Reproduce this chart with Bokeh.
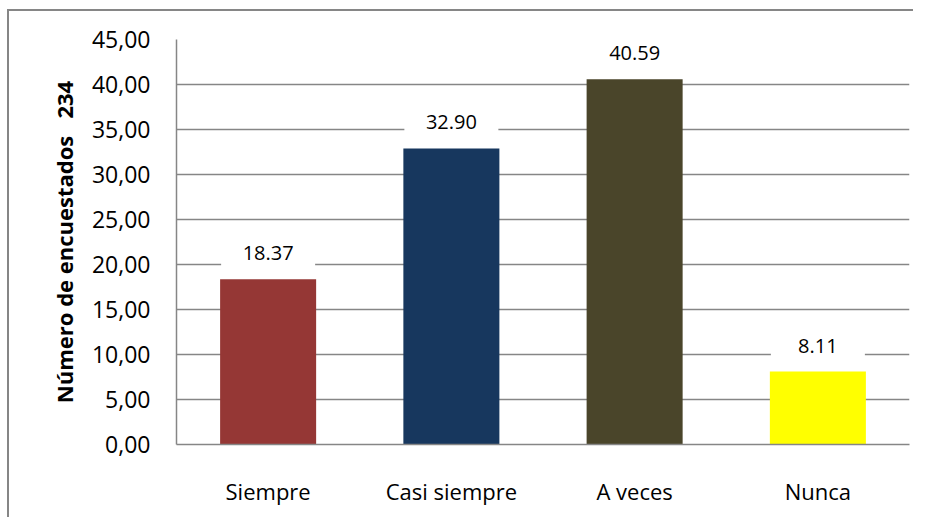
from bokeh.plotting import figure
from bokeh.models import ColumnDataSource, FixedTicker
from bokeh.core.properties import value
from bokeh.embed import file_html
from bokeh.resources import INLINE

categories = ["Siempre", "Casi siempre", "A veces", "Nunca"]
values = [18.37, 32.90, 40.59, 8.11]
value_labels = ["18.37", "32.90", "40.59", "8.11"]
bar_colors = ["#953735", "#17375E", "#4A452A", "#FFFF00"]
tick_values = [0, 5, 10, 15, 20, 25, 30, 35, 40, 45]
tick_labels = ["0,00", "5,00", "10,00", "15,00", "20,00", "25,00", "30,00", "35,00", "40,00", "45,00"]
y_title = "Número de encuestados\u00a0\u00a0\u00a0234"

FONT = "Open Sans"
GRID = "#868686"

W, H = 906, 508
y_top = 45
frame_top, frame_bottom = 30, 73
px_per_unit = (H - frame_top - frame_bottom) / y_top
label_gap_px = 26

src = ColumnDataSource(dict(
    cat=categories,
    val=values,
    lab=value_labels,
    color=bar_colors,
    laby=[v + label_gap_px / px_per_unit for v in values],
))

p = figure(x_range=categories, y_range=(0, y_top), width=W, height=H,
           output_backend="svg", toolbar_location=None,
           min_border_left=169, min_border_right=4,
           min_border_top=frame_top, min_border_bottom=frame_bottom)
p.x_range.range_padding = 0
p.outline_line_color = None
p.background_fill_color = "white"
p.border_fill_color = None
p.styles = {
    "margin-left": "7px", "margin-top": "9px",
    "background": ("linear-gradient(#868686, #868686) 0 0 / 100% 2px no-repeat, "
                   "linear-gradient(#868686, #868686) 0 0 / 2px 100% no-repeat, white"),
}

p.vbar(x="cat", top="val", width=0.524, color="color", line_color=None, source=src)

# white label boxes
p.rect(x="cat", y="laby", width=0.513, height=36, height_units="screen",
       fill_color="white", line_color=None, source=src)
p.text(x="cat", y="laby", text="lab", source=src, text_align="center",
       text_baseline="middle", text_font=value(FONT), text_font_size="20px",
       text_color="#000000")

p.xgrid.grid_line_color = None
p.ygrid.grid_line_color = GRID
p.ygrid.grid_line_width = 1.5
p.ygrid.ticker = FixedTicker(ticks=tick_values)

ya = p.yaxis[0]
ya.ticker = FixedTicker(ticks=tick_values)
ya.major_label_overrides = {t: l for t, l in zip(tick_values, tick_labels)}
ya.axis_line_color = GRID
ya.axis_line_width = 1.5
ya.major_tick_line_color = None
ya.minor_tick_line_color = None
ya.major_label_standoff = 20
ya.major_label_text_font = FONT
ya.major_label_text_font_size = "23px"
ya.major_label_text_color = "#000000"
ya.axis_label = y_title
ya.axis_label_text_font = FONT
ya.axis_label_text_font_size = "22px"
ya.axis_label_text_font_style = "bold"
ya.axis_label_text_color = "#000000"
ya.axis_label_standoff = 10

xa = p.xaxis[0]
xa.axis_line_color = GRID
xa.axis_line_width = 1.5
xa.major_tick_line_color = None
xa.minor_tick_line_color = None
xa.major_label_standoff = 25
xa.major_label_text_font = FONT
xa.major_label_text_font_size = "22px"
xa.major_label_text_color = "#000000"

open("out.html", "w").write(file_html(p, INLINE))
